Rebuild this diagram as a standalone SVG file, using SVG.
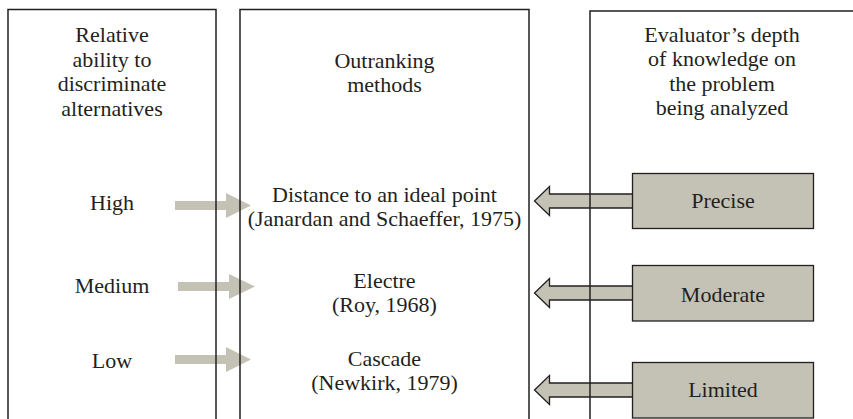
<svg xmlns="http://www.w3.org/2000/svg" width="853" height="419" viewBox="0 0 853 419">
  <style>
    text { font-family: "Liberation Serif", "Times New Roman", serif; font-size: 22px; fill: #231f20; text-anchor: middle; }
    .col { fill: none; stroke: #231f20; stroke-width: 1.5; }
    .lvl { fill: #c3c2b4; stroke: #231f20; stroke-width: 1.3; }
    .arrowFill { fill: #c3c2b4; stroke: none; }
    .arrowLine { fill: none; stroke: #231f20; stroke-width: 1.3; stroke-linejoin: miter; }
  </style>

  <!-- connectors: block arrows, drawn beneath the column borders -->
  <g id="connectors">
    <!-- discrimination level to method -->
    <polygon class="arrowFill" points="175,201 226,201 226,193 251,205.5 226,218 226,210 175,210"/>
    <polygon class="arrowFill" points="178,282 229,282 229,274 255,286.5 229,299 229,291 178,291"/>
    <polygon class="arrowFill" points="175,355 226,355 226,347 251,359.5 226,372 226,364 175,364"/>
    <!-- knowledge level to method -->
    <polygon class="arrowFill" points="634,194 549.5,194 549.5,186.5 534.5,201 549.5,215.5 549.5,208 634,208"/>
    <polyline class="arrowLine" points="632.5,194 549.5,194 549.5,186.5 534.5,201 549.5,215.5 549.5,208 632.5,208"/>
    <polygon class="arrowFill" points="634,286 549.5,286 549.5,278.5 534.5,293 549.5,307.5 549.5,300 634,300"/>
    <polyline class="arrowLine" points="632.5,286 549.5,286 549.5,278.5 534.5,293 549.5,307.5 549.5,300 632.5,300"/>
    <polygon class="arrowFill" points="634,383 549.5,383 549.5,375.5 534.5,390 549.5,404.5 549.5,397 634,397"/>
    <polyline class="arrowLine" points="632.5,383 549.5,383 549.5,375.5 534.5,390 549.5,404.5 549.5,397 632.5,397"/>
  </g>

  <!-- column: discrimination ability -->
  <g id="ability">
    <path class="col" d="M8,425 V9.5 H216 V425"/>
    <text x="112" y="42">Relative</text>
    <text x="112" y="66.5">ability to</text>
    <text x="112" y="91">discriminate</text>
    <text x="112" y="115.5">alternatives</text>
  </g>
  <g id="high"><text x="112" y="210">High</text></g>
  <g id="medium"><text x="112" y="293">Medium</text></g>
  <g id="low"><text x="112" y="368">Low</text></g>

  <!-- column: outranking methods -->
  <g id="methods">
    <path class="col" d="M240,425 V9.5 H529 V425"/>
    <text x="384.5" y="68">Outranking</text>
    <text x="384.5" y="92">methods</text>
  </g>
  <g id="distance">
    <text x="384.5" y="202">Distance to an ideal point</text>
    <text x="384.5" y="226">(Janardan and Schaeffer, 1975)</text>
  </g>
  <g id="electre">
    <text x="384.5" y="288">Electre</text>
    <text x="384.5" y="312">(Roy, 1968)</text>
  </g>
  <g id="cascade">
    <text x="384.5" y="366">Cascade</text>
    <text x="384.5" y="390">(Newkirk, 1979)</text>
  </g>

  <!-- column: evaluator's knowledge -->
  <g id="knowledge">
    <path class="col" d="M590,425 V11 H860"/>
    <text x="722" y="42">Evaluator’s depth</text>
    <text x="722" y="66">of knowledge on</text>
    <text x="722" y="90.5">the problem</text>
    <text x="722" y="115">being analyzed</text>
  </g>
  <g id="precise">
    <rect class="lvl" x="632.5" y="173.5" width="181" height="55"/>
    <text x="723" y="208">Precise</text>
  </g>
  <g id="moderate">
    <rect class="lvl" x="632.5" y="265.5" width="181" height="55.5"/>
    <text x="723" y="302">Moderate</text>
  </g>
  <g id="limited">
    <rect class="lvl" x="632.5" y="362.5" width="181" height="55.5"/>
    <text x="723" y="397">Limited</text>
  </g>
</svg>
